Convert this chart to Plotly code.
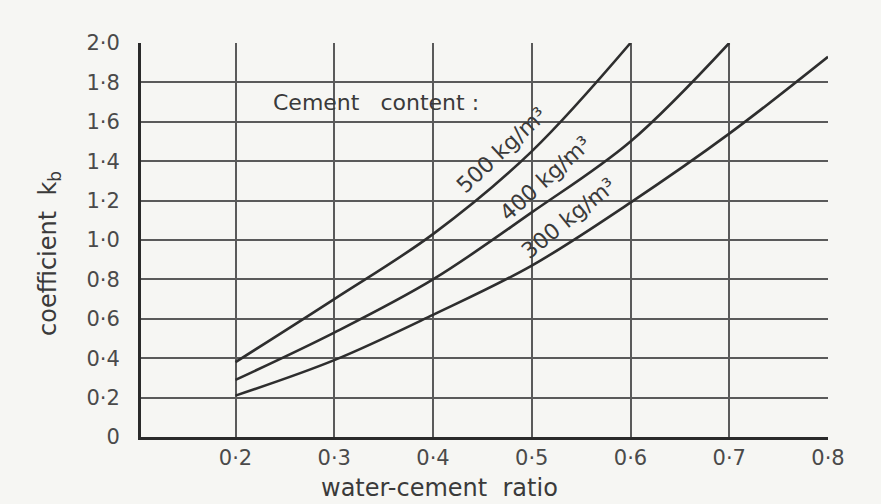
import plotly.graph_objects as go

# Water-cement ratio (x) and coefficient k_b for three cement contents
wc_500 = [0.2, 0.3, 0.4, 0.5, 0.6]
kb_500 = [0.38, 0.70, 1.03, 1.45, 2.0]

wc_400 = [0.2, 0.3, 0.4, 0.5, 0.6, 0.7]
kb_400 = [0.29, 0.53, 0.80, 1.14, 1.50, 2.0]

wc_300 = [0.2, 0.3, 0.4, 0.5, 0.6, 0.7, 0.8]
kb_300 = [0.21, 0.39, 0.62, 0.87, 1.19, 1.54, 1.93]

x_tickvals = [0.2, 0.3, 0.4, 0.5, 0.6, 0.7, 0.8]
x_ticktext = ["0·2", "0·3", "0·4", "0·5", "0·6", "0·7", "0·8"]
y_tickvals = [0, 0.2, 0.4, 0.6, 0.8, 1.0, 1.2, 1.4, 1.6, 1.8, 2.0]
y_ticktext = ["0", "0·2", "0·4", "0·6", "0·8", "1·0", "1·2", "1·4", "1·6", "1·8", "2·0"]

curve_labels = ["500 kg/m³", "400 kg/m³", "300 kg/m³"]

PAPER = "#f6f6f3"
INK = "#3a3a3a"
GRID = "#5a5a5a"
FONT = "DejaVu Sans"

fig = go.Figure()
for xs, ys in [(wc_500, kb_500), (wc_400, kb_400), (wc_300, kb_300)]:
    fig.add_trace(go.Scatter(
        x=xs, y=ys, mode="lines",
        line=dict(color="#2e2e2e", width=2.6, shape="spline", smoothing=1.0),
        showlegend=False, hoverinfo="skip",
    ))

# Curve labels written along each line, sitting just above it
label_pos = [(0.469, 1.455, -43), (0.514, 1.31, -42), (0.537, 1.11, -39)]
for text, (lx, ly, ang) in zip(curve_labels, label_pos):
    fig.add_annotation(x=lx, y=ly, xref="x", yref="y", text=text,
                       textangle=ang, showarrow=False,
                       xanchor="center", yanchor="middle",
                       font=dict(family=FONT, size=22, color=INK))

fig.add_annotation(x=0.3418, y=1.70, xref="x", yref="y",
                   text="Cement   content :", showarrow=False,
                   xanchor="center", yanchor="middle",
                   font=dict(family=FONT, size=22, color=INK))

# Axis titles
fig.add_annotation(x=0.435, y=-0.129, xref="paper", yref="paper",
                   text="water-cement  ratio", showarrow=False,
                   xanchor="center", yanchor="middle",
                   font=dict(family=FONT, size=24, color=INK))
fig.add_annotation(x=-0.134, y=0.467, xref="paper", yref="paper",
                   text="coefficient  k<sub>b</sub>", textangle=-90,
                   showarrow=False, xanchor="center", yanchor="middle",
                   font=dict(family=FONT, size=24, color=INK))

fig.update_xaxes(
    range=[0.1043, 0.8], tickvals=x_tickvals, ticktext=x_ticktext,
    showgrid=True, gridcolor=GRID, gridwidth=2,
    showline=True, linecolor="#2a2a2a", linewidth=3,
    zeroline=False, ticks="", ticklabelstandoff=0,
    tickfont=dict(family=FONT, size=21, color="#4a4a4a"),
)
fig.update_yaxes(
    range=[0, 2.0], tickvals=y_tickvals, ticktext=y_ticktext,
    showgrid=True, gridcolor=GRID, gridwidth=2,
    showline=True, linecolor="#2a2a2a", linewidth=3,
    zeroline=False, ticks="", ticklabelstandoff=14,
    tickfont=dict(family=FONT, size=21, color="#4a4a4a"),
)

fig.update_layout(
    width=881, height=504,
    margin=dict(l=141, r=53, t=43, b=67),
    paper_bgcolor=PAPER, plot_bgcolor=PAPER,
)

fig.write_html("out.html")
